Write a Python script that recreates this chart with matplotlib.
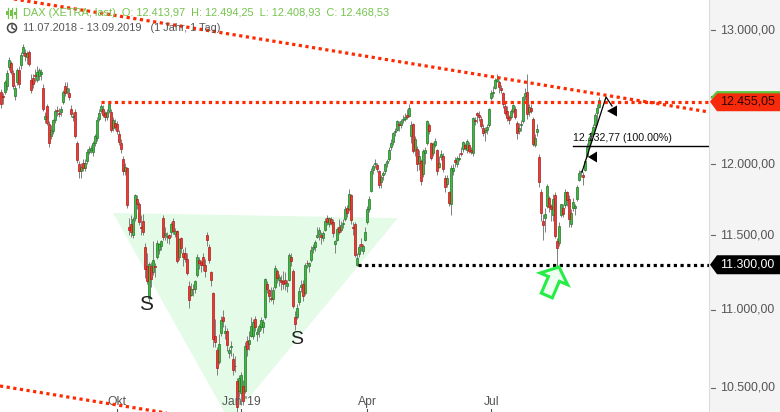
import numpy as np
import matplotlib
matplotlib.use("Agg")
import matplotlib.pyplot as plt
from matplotlib.patches import Polygon, Circle, Rectangle
from matplotlib.lines import Line2D
from matplotlib.transforms import IdentityTransform, blended_transform_factory

plt.rcParams['font.family'] = ['Liberation Sans', 'DejaVu Sans']

# DAX daily candles 11.07.2018 - 13.09.2019 (trading-day index 0..299)
opens = [
    12525, 12500, 12530, 12575, 12715, 12745, 12670, 12500, 12600, 12690,
    12730, 12820, 12825, 12790, 12830, 12620, 12630, 12655, 12620, 12650,
    12660, 12560, 12330, 12420, 12290, 12200, 12240, 12320, 12395, 12370,
    12380, 12450, 12570, 12530, 12520, 12400, 12340, 12380, 12150, 12000,
    11950, 12010, 11975, 12020, 12090, 12100, 12090, 12150, 12190, 12330,
    12390, 12400, 12370, 12340, 12390, 12380, 12260, 12300, 12290, 12220,
    12150, 12040, 11950, 11970, 11560, 11580, 11500, 11620, 11750, 11720,
    11560, 11600, 11420, 11290, 11080, 11290, 11250, 11290, 11350, 11400,
    11430, 11620, 11500, 11490, 11500, 11520, 11600, 11510, 11530, 11350,
    11480, 11380, 11380, 11340, 11160, 11100, 11140, 11140, 11230, 11330,
    11320, 11350, 11300, 11500, 11420, 11250, 11110, 10830, 10740, 10660,
    10850, 10950, 10850, 10860, 10720, 10760, 10680, 10640, 10540, 10480,
    10470, 10510, 10480, 10800, 10780, 10830, 10830, 10940, 10840, 10860,
    10890, 10890, 10950, 11170, 11130, 11080, 11070, 11150, 11260, 11200,
    11200, 11190, 11200, 11160, 11200, 11350, 11260, 10950, 10950, 11050,
    11150, 11170, 11110, 11310, 11290, 11330, 11410, 11420, 11490, 11510,
    11500, 11480, 11540, 11620, 11580, 11610, 11590, 11440, 11470, 11560,
    11540, 11580, 11610, 11690, 11680, 11780, 11560, 11580, 11300, 11370,
    11440, 11390, 11470, 11590, 11680, 11810, 11960, 12000, 11990, 11950,
    11870, 11920, 11950, 12010, 12040, 12120, 12160, 12230, 12250, 12290,
    12280, 12320, 12330, 12360, 12350, 12200, 12290, 12100, 12110, 12010,
    12020, 11930, 12080, 12150, 12280, 12150, 12080, 12140, 12100, 11980,
    12050, 12060, 11900, 11860, 11800, 11720, 11950, 12030, 12000, 12040,
    12080, 12110, 12140, 12100, 12140, 12100, 12080, 12320, 12370, 12360,
    12330, 12260, 12230, 12250, 12280, 12480, 12520, 12560, 12610, 12600,
    12560, 12520, 12420, 12390, 12340, 12340, 12390, 12400, 12300, 12240,
    12280, 12310, 12500, 12530, 12380, 12410, 12330, 12140, 12230, 12050,
    11800, 11600, 11620, 11700, 11760, 11700, 11640, 11780, 11460, 11450,
    11640, 11690, 11710, 11800, 11750, 11580, 11690, 11690, 11750, 11890,
    11940, 11920, 11960, 12060, 12140, 12200, 12220, 12280, 12370, 12414,
]
highs = [
    12550, 12520, 12620, 12690, 12790, 12765, 12690, 12580, 12710, 12720,
    12830, 12890, 12850, 12840, 12845, 12660, 12660, 12700, 12720, 12710,
    12700, 12590, 12380, 12440, 12310, 12280, 12330, 12400, 12420, 12410,
    12420, 12545, 12600, 12600, 12560, 12430, 12380, 12400, 12170, 12020,
    12010, 12040, 12040, 12110, 12130, 12140, 12170, 12220, 12340, 12400,
    12440, 12430, 12390, 12400, 12460, 12400, 12340, 12330, 12310, 12250,
    12180, 12060, 12010, 11980, 11620, 11640, 11630, 11790, 11780, 11730,
    11640, 11650, 11450, 11380, 11320, 11320, 11460, 11310, 11470, 11450,
    11470, 11640, 11560, 11520, 11510, 11590, 11620, 11550, 11540, 11480,
    11490, 11410, 11420, 11380, 11190, 11180, 11170, 11200, 11370, 11350,
    11330, 11380, 11340, 11520, 11440, 11260, 11120, 10940, 10760, 10840,
    10960, 11000, 10900, 10880, 10760, 10800, 10720, 10700, 10560, 10580,
    10600, 10550, 10790, 10830, 10860, 10950, 10940, 10960, 10880, 10910,
    10950, 10940, 11210, 11190, 11140, 11150, 11150, 11300, 11270, 11240,
    11230, 11260, 11250, 11200, 11380, 11380, 11270, 10990, 11040, 11150,
    11200, 11200, 11310, 11330, 11320, 11430, 11440, 11470, 11560, 11560,
    11520, 11530, 11620, 11640, 11630, 11630, 11610, 11470, 11560, 11610,
    11600, 11610, 11700, 11710, 11820, 11790, 11590, 11590, 11380, 11440,
    11480, 11440, 11560, 11700, 11770, 11970, 12000, 12040, 12010, 11960,
    11920, 11950, 12010, 12040, 12120, 12180, 12230, 12260, 12320, 12310,
    12330, 12360, 12370, 12400, 12440, 12310, 12300, 12200, 12130, 12100,
    12040, 12110, 12120, 12320, 12300, 12160, 12160, 12190, 12110, 12060,
    12100, 12080, 11920, 11920, 11810, 11990, 12000, 12050, 12060, 12080,
    12120, 12170, 12150, 12180, 12160, 12120, 12340, 12340, 12380, 12390,
    12350, 12290, 12270, 12290, 12410, 12540, 12570, 12630, 12660, 12620,
    12580, 12530, 12460, 12420, 12360, 12400, 12440, 12420, 12310, 12300,
    12320, 12500, 12560, 12660, 12440, 12440, 12340, 12220, 12290, 12070,
    11820, 11650, 11690, 11860, 11770, 11720, 11790, 11800, 11480, 11590,
    11720, 11720, 11820, 11810, 11780, 11680, 11760, 11720, 11850, 11960,
    11960, 11940, 12040, 12150, 12200, 12240, 12290, 12370, 12440, 12494,
]
lows = [
    12405, 12440, 12510, 12545, 12690, 12660, 12550, 12470, 12580, 12560,
    12700, 12800, 12760, 12740, 12720, 12520, 12560, 12600, 12600, 12620,
    12620, 12390, 12300, 12280, 12120, 12180, 12220, 12300, 12350, 12340,
    12350, 12440, 12500, 12510, 12470, 12340, 12310, 12190, 12010, 11900,
    11900, 11950, 11950, 12000, 12070, 12080, 12060, 12130, 12170, 12310,
    12370, 12340, 12310, 12320, 12370, 12230, 12240, 12250, 12220, 12140,
    12080, 11920, 11920, 11690, 11500, 11490, 11480, 11600, 11680, 11570,
    11500, 11500, 11210, 11170, 11050, 11150, 11230, 11220, 11340, 11370,
    11400, 11470, 11470, 11450, 11440, 11490, 11510, 11490, 11310, 11330,
    11380, 11290, 11320, 11230, 11010, 11090, 11090, 11110, 11220, 11270,
    11250, 11260, 11220, 11430, 11310, 11160, 10760, 10760, 10580, 10650,
    10830, 10890, 10810, 10730, 10690, 10700, 10580, 10600, 10279, 10440,
    10390, 10390, 10470, 10700, 10740, 10820, 10810, 10860, 10800, 10820,
    10870, 10850, 10940, 11110, 11050, 11060, 11040, 11140, 11180, 11160,
    11130, 11140, 11130, 11120, 11190, 11290, 11010, 10870, 10940, 11030,
    11120, 11060, 11100, 11280, 11250, 11320, 11380, 11390, 11480, 11470,
    11440, 11460, 11530, 11570, 11560, 11570, 11490, 11380, 11460, 11510,
    11520, 11550, 11600, 11630, 11670, 11580, 11500, 11350, 11290, 11350,
    11390, 11370, 11460, 11580, 11660, 11800, 11930, 11970, 11940, 11830,
    11830, 11890, 11930, 11980, 12020, 12100, 12140, 12200, 12240, 12240,
    12260, 12300, 12310, 12330, 12340, 12150, 12080, 12060, 11950, 11960,
    11850, 11910, 12000, 12140, 12220, 12030, 12060, 12120, 11920, 11970,
    12030, 11940, 11800, 11840, 11700, 11640, 11920, 11980, 11980, 12020,
    12060, 12090, 12100, 12080, 12080, 12070, 12060, 12280, 12300, 12310,
    12260, 12200, 12170, 12220, 12270, 12470, 12490, 12550, 12600, 12520,
    12520, 12410, 12360, 12310, 12290, 12330, 12370, 12330, 12180, 12220,
    12240, 12300, 12470, 12330, 12350, 12370, 12130, 12120, 12200, 11840,
    11600, 11470, 11520, 11690, 11660, 11600, 11600, 11480, 11266, 11430,
    11630, 11630, 11690, 11700, 11560, 11560, 11670, 11640, 11740, 11880,
    11910, 11850, 11950, 12050, 12120, 12170, 12200, 12260, 12290, 12409,
]
closes = [
    12440, 12488, 12600, 12670, 12770, 12680, 12570, 12555, 12695, 12590,
    12810, 12865, 12800, 12820, 12740, 12545, 12590, 12645, 12680, 12690,
    12676, 12400, 12350, 12300, 12150, 12250, 12318, 12390, 12385, 12365,
    12400, 12530, 12520, 12561, 12490, 12364, 12350, 12200, 12030, 11950,
    11980, 11970, 12010, 12090, 12110, 12115, 12150, 12200, 12320, 12370,
    12420, 12360, 12340, 12380, 12440, 12250, 12320, 12270, 12240, 12160,
    12111, 11947, 11977, 11712, 11539, 11523, 11614, 11777, 11715, 11589,
    11553, 11524, 11274, 11191, 11307, 11201, 11335, 11287, 11447, 11440,
    11460, 11490, 11519, 11494, 11484, 11579, 11527, 11529, 11325, 11472,
    11413, 11353, 11341, 11244, 11066, 11138, 11136, 11192, 11354, 11309,
    11298, 11298, 11257, 11465, 11335, 11200, 10811, 10788, 10622, 10780,
    10931, 10924, 10865, 10772, 10740, 10766, 10611, 10634, 10382, 10559,
    10580, 10416, 10767, 10747, 10803, 10893, 10921, 10888, 10856, 10891,
    10931, 10919, 11205, 11136, 11090, 11071, 11130, 11281, 11210, 11218,
    11181, 11173, 11180, 11176, 11367, 11324, 11022, 10906, 11014, 11126,
    11167, 11089, 11299, 11309, 11309, 11401, 11423, 11457, 11505, 11540,
    11487, 11515, 11601, 11592, 11620, 11587, 11517, 11458, 11543, 11524,
    11572, 11588, 11685, 11657, 11788, 11603, 11550, 11364, 11346, 11419,
    11428, 11429, 11526, 11681, 11754, 11954, 11988, 12009, 11963, 11850,
    11905, 11935, 11999, 12020, 12101, 12153, 12222, 12236, 12313, 12282,
    12315, 12328, 12344, 12345, 12412, 12286, 12092, 12179, 12000, 12059,
    11876, 12092, 12100, 12310, 12238, 12041, 12143, 12169, 11952, 12011,
    12071, 11963, 11837, 11902, 11727, 11971, 11972, 12016, 12045, 12046,
    12075, 12157, 12115, 12169, 12096, 12086, 12332, 12309, 12355, 12340,
    12275, 12228, 12245, 12271, 12399, 12521, 12526, 12616, 12629, 12568,
    12543, 12436, 12373, 12332, 12323, 12387, 12430, 12341, 12227, 12260,
    12289, 12490, 12522, 12362, 12419, 12386, 12147, 12189, 12253, 11872,
    11658, 11568, 11650, 11845, 11694, 11680, 11750, 11493, 11412, 11563,
    11715, 11651, 11802, 11747, 11612, 11658, 11731, 11702, 11838, 11939,
    11953, 11911, 12025, 12126, 12191, 12226, 12268, 12359, 12410, 12469,
]

month_ticks = [58, 120, 183, 245]
month_labels = ["Okt", "Jan '19", "Apr", "Jul"]
price_ticks = [10500, 11000, 11500, 12000, 12500, 13000]
hidden_labels = [12500]  # covered by the last-price tag

last_price = 12455.05
support = 11300.00
fib_level = 12132.77

W, H = 780, 412
PW = 709
YMIN, YMAX = 10349, 13235
XMIN, XMAX = -0.65, 353.85


def de(v):
    s = f"{v:,.2f}"
    return s.replace(",", "X").replace(".", ",").replace("X", ".")


def P(x, y):
    # pixel position from the top-left corner -> display coords
    return (x, H - y)


fig = plt.figure(figsize=(W / 100, H / 100), dpi=100)
ax = fig.add_axes([0, 0, PW / W, 1])
ax.set_yscale('log')
ax.set_xlim(XMIN, XMAX)
ax.set_ylim(YMIN, YMAX)
ax.axis('off')

o = np.array(opens, float)
h = np.array(highs, float)
l = np.array(lows, float)
c = np.array(closes, float)
x = np.arange(len(c))

# inverse head & shoulders zone
ax.add_patch(Polygon([(55.85, 11655), (198.35, 11619), (114.1, 10293)],
                     closed=True, facecolor='#e4fbe7', edgecolor='none', zorder=0))

up = c >= o
body_lo = np.minimum(o, c)
body_h = np.maximum(np.abs(c - o), 4)
ax.vlines(x, l, h, color='#808080', lw=0.7, zorder=2)
ax.bar(x[up], body_h[up], bottom=body_lo[up], width=0.85, color='#41b941',
       edgecolor='#22752a', lw=0.5, zorder=3)
ax.bar(x[~up], body_h[~up], bottom=body_lo[~up], width=0.85, color='#ee3a34',
       edgecolor='#a51e1a', lw=0.5, zorder=3)

# trend lines
dot = (0, (1, 1.1))
ax.plot([XMIN, XMAX], [13261, 12379], color='#ff2a00', lw=2.3, ls=dot, zorder=4)
ax.plot([XMIN, 100], [10511, 10308], color='#ff2a00', lw=2.3, ls=dot, zorder=4)
ax.plot([49.85, XMAX], [last_price, last_price], color='#ff2a00', lw=2.3, ls=dot, zorder=4)
ax.plot([178.35, XMAX], [support, support], color='black', lw=2.3, ls=dot, zorder=4)

# fib line
ax.plot([285.85, XMAX], [fib_level, fib_level], color='black', lw=1, zorder=4)
ax.annotate(de(fib_level) + " (100.00%)", (285.85, fib_level), xytext=(0, 2),
            textcoords='offset points', fontsize=7.7, color='#111', va='bottom', ha='left')

# month labels
bt = blended_transform_factory(ax.transData, ax.transAxes)
for pos, lab in zip(month_ticks, month_labels):
    ax.text(pos, 10 / H, lab, transform=bt, ha='center', va='center', fontsize=8.7, color='#555')
    ax.plot([pos, pos], [0, 3 / H], transform=bt, color='#555', lw=0.8)

# price panel
pax = fig.add_axes([PW / W, 0, 1 - PW / W, 1])
pax.set_facecolor('#f4f4f4')
pax.set_yscale('log')
pax.set_ylim(YMIN, YMAX)
pax.set_xlim(0, W - PW)
pax.set_xticks([])
pax.set_yticks([])
pax.minorticks_off()
for s in ['top', 'right', 'bottom']:
    pax.spines[s].set_visible(False)
pax.spines['left'].set_color('#dcdcdc')
for p in price_ticks:
    pax.plot([2, 6], [p, p], color='#666', lw=0.8)
    if p not in hidden_labels:
        pax.text(11, p, de(p), ha='left', va='center', fontsize=8.9, color='#555')


def frac(price):
    return (np.log(price) - np.log(YMIN)) / (np.log(YMAX) - np.log(YMIN))


def tag(price, face, txtcolor, topline=None):
    yc = frac(price) * H
    verts = [(PW + 1, yc), (PW + 8, yc + 9.5), (W, yc + 9.5), (W, yc - 9.5), (PW + 8, yc - 9.5)]
    fig.add_artist(Polygon(verts, closed=True, facecolor=face, edgecolor='none',
                           transform=IdentityTransform(), zorder=10))
    if topline:
        fig.add_artist(Line2D([PW + 3, PW + 8, W], [yc + 4, yc + 9.5, yc + 9.5], color=topline,
                              lw=1.6, transform=IdentityTransform(), zorder=11))
    fig.text((PW + 11) / W, yc / H, de(price), ha='left', va='center', fontsize=8.9,
             color=txtcolor, zorder=12)


tag(last_price, '#f72a0c', '#2a0000', topline='#5cc43c')
tag(support, '#000000', 'white')

# drawn annotations (pixel positions)
idt = IdentityTransform()
fig.add_artist(Line2D([582, 606, 612], [H - 172, H - 97, H - 106], color='black', lw=0.9,
                      transform=idt, zorder=6))
for tri in ([P(588, 157), P(597, 151.5), P(597, 162.5)],
            [P(607, 111), P(617, 105.5), P(617, 116.5)]):
    fig.add_artist(Polygon(tri, closed=True, facecolor='black', edgecolor='none',
                           transform=idt, zorder=6))

arrow = [P(559, 267), P(567.7, 284.8), P(559.4, 281.3), P(552.3, 297.9),
         P(541.3, 293.1), P(548.4, 276.5), P(540.1, 273.0)]
fig.add_artist(Polygon(arrow, closed=True, facecolor='#ecfff1', edgecolor='#27ec45',
                       lw=2.2, joinstyle='miter', transform=idt, zorder=7))

fig.text(146.5 / W, 1 - 304.5 / H, "S", ha='center', va='center', fontsize=15, color='#222')
fig.text(297 / W, 1 - 339 / H, "S", ha='center', va='center', fontsize=14, color='#222')

# header
fig.text(23 / W, 1 - 12.7 / H,
         "DAX (XETRA, last)  O: 12.413,97  H: 12.494,25  L: 12.408,93  C: 12.468,53",
         ha='left', va='center', fontsize=7.9, color='#74c44c', zorder=12)
fig.text(23 / W, 1 - 28 / H, "11.07.2018 - 13.09.2019   (1 Jahr, 1 Tag)",
         ha='left', va='center', fontsize=7.9, color='#555', zorder=12)
for cx, b0, b1 in [(7.5, 11, 15), (11.5, 10, 16), (15.5, 12, 15)]:
    fig.add_artist(Line2D([cx, cx], [H - 8, H - 18], color='#74c44c', lw=0.9, transform=idt))
    fig.add_artist(Rectangle((cx - 1.3, H - b1), 2.6, b1 - b0, facecolor='#74c44c',
                             edgecolor='none', transform=idt))
fig.add_artist(Circle(P(12, 28), 4.5, fill=False, edgecolor='#444', lw=1.1, transform=idt))
fig.add_artist(Line2D([12, 12, 14.5], [H - 25, H - 28, H - 29.5], color='#444', lw=1.0,
                      transform=idt))

fig.savefig('out.png', dpi=100)
